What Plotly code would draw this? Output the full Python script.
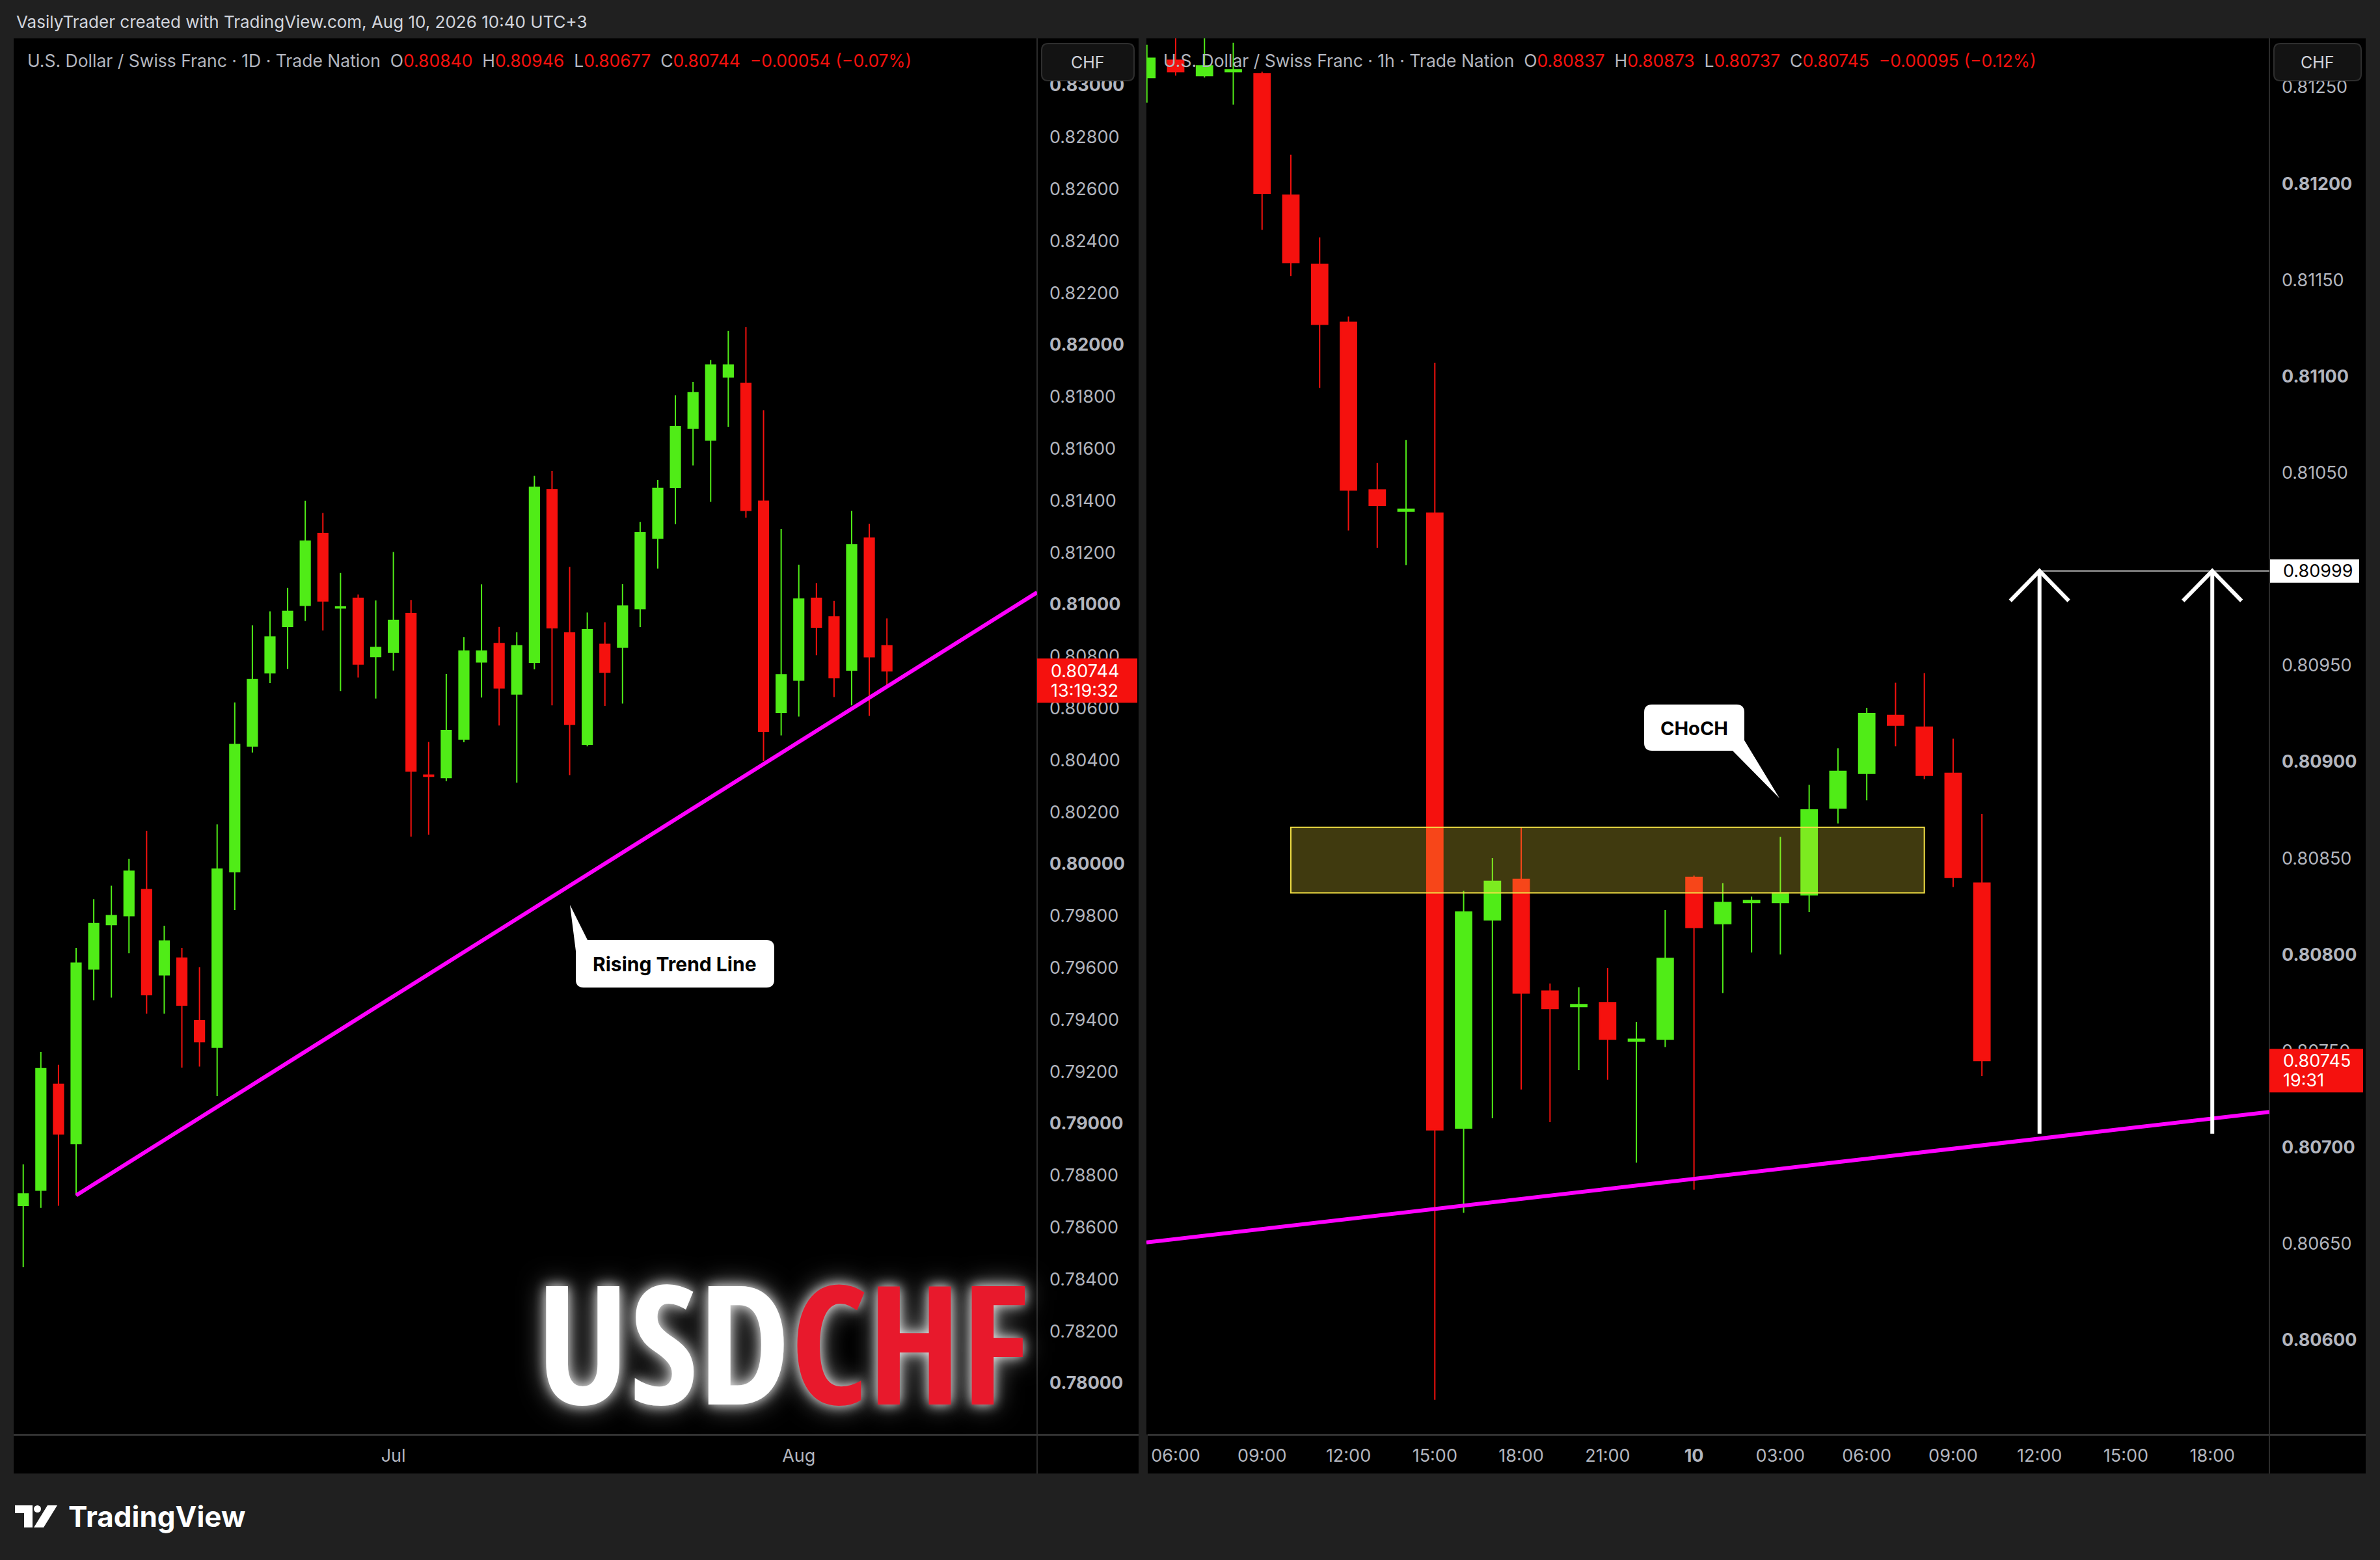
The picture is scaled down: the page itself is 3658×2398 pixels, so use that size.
import plotly.graph_objects as go
import pandas as pd

W, H = 3658, 2398

# ---------------- LEFT PANEL: USD/CHF daily ----------------
daily_dates = [d.strftime("%Y-%m-%d") for d in pd.bdate_range("2026-06-02", "2026-08-10")]
daily_open = [0.78684, 0.78743, 0.79151, 0.78922, 0.79595, 0.79766, 0.79801, 0.79901, 0.79573, 0.79637,
              0.79396, 0.79294, 0.79970, 0.80454, 0.80736, 0.80915, 0.80996, 0.81273, 0.80986, 0.81023,
              0.80799, 0.80815, 0.80965, 0.80342, 0.80333, 0.80481, 0.80778, 0.80849, 0.80655, 0.80777,
              0.81441, 0.80890, 0.80461, 0.80846, 0.80835, 0.80984, 0.81255, 0.81451, 0.81679, 0.81633,
              0.81876, 0.81851, 0.81397, 0.80584, 0.80708, 0.81023, 0.80952, 0.80747, 0.81255, 0.80840]
daily_high = [0.78843, 0.79276, 0.79226, 0.79677, 0.79864, 0.79916, 0.80020, 0.80128, 0.79762, 0.79677,
              0.79602, 0.80152, 0.80622, 0.80919, 0.80973, 0.81063, 0.81399, 0.81352, 0.81121, 0.81038,
              0.81015, 0.81202, 0.81017, 0.80470, 0.80732, 0.80874, 0.81077, 0.80913, 0.80892, 0.81495,
              0.81514, 0.81144, 0.80969, 0.80931, 0.81078, 0.81318, 0.81479, 0.81806, 0.81857, 0.81942,
              0.82053, 0.82068, 0.81748, 0.81291, 0.81153, 0.81082, 0.81013, 0.81360, 0.81311, 0.80946]
daily_low = [0.78446, 0.78675, 0.78683, 0.78723, 0.79475, 0.79485, 0.79656, 0.79423, 0.79423, 0.79215,
             0.79219, 0.79105, 0.79822, 0.80429, 0.80697, 0.80751, 0.80936, 0.80899, 0.80666, 0.80718,
             0.80637, 0.80745, 0.80105, 0.80113, 0.80319, 0.80469, 0.80641, 0.80533, 0.80313, 0.80750,
             0.80611, 0.80342, 0.80453, 0.80609, 0.80618, 0.80912, 0.81138, 0.81309, 0.81535, 0.81395,
             0.81684, 0.81334, 0.80396, 0.80495, 0.80568, 0.80804, 0.80643, 0.80611, 0.80570, 0.80677]
daily_close = [0.78729, 0.79211, 0.78960, 0.79618, 0.79770, 0.79801, 0.79972, 0.79496, 0.79703, 0.79456,
               0.79315, 0.79980, 0.80460, 0.80710, 0.80874, 0.80973, 0.81244, 0.81013, 0.80990, 0.80770,
               0.80834, 0.80938, 0.80358, 0.80338, 0.80514, 0.80820, 0.80820, 0.80678, 0.80840, 0.81451,
               0.80910, 0.80538, 0.80902, 0.80739, 0.80994, 0.81276, 0.81447, 0.81684, 0.81815, 0.81922,
               0.81922, 0.81362, 0.80511, 0.80729, 0.81021, 0.80912, 0.80718, 0.81230, 0.80798, 0.80744]
daily_tick_dates = ["2026-07-01", "2026-08-03"]
daily_tick_text = ["Jul", "Aug"]
daily_price_ticks = [0.780, 0.782, 0.784, 0.786, 0.788, 0.790, 0.792, 0.794, 0.796, 0.798,
                     0.800, 0.802, 0.804, 0.806, 0.808, 0.810, 0.812, 0.814, 0.816, 0.818,
                     0.820, 0.822, 0.824, 0.826, 0.828, 0.830]
daily_trend_dates = ["2026-06-05", "2026-08-10"]
daily_trend_prices = [0.78723, 0.80683]
daily_countdown = "13:19:32"
daily_legend = ("U.S. Dollar / Swiss Franc · 1D · Trade Nation", "−0.00054 (−0.07%)")

# ---------------- RIGHT PANEL: USD/CHF 1h ----------------
hourly_times = ["2026-08-07 05:00", "2026-08-07 06:00", "2026-08-07 07:00", "2026-08-07 08:00",
                "2026-08-07 09:00", "2026-08-07 10:00", "2026-08-07 11:00", "2026-08-07 12:00",
                "2026-08-07 13:00", "2026-08-07 14:00", "2026-08-07 15:00", "2026-08-07 16:00",
                "2026-08-07 17:00", "2026-08-07 18:00", "2026-08-07 19:00", "2026-08-07 20:00",
                "2026-08-07 21:00", "2026-08-07 22:00", "2026-08-07 23:00", "2026-08-10 00:00",
                "2026-08-10 01:00", "2026-08-10 02:00", "2026-08-10 03:00", "2026-08-10 04:00",
                "2026-08-10 05:00", "2026-08-10 06:00", "2026-08-10 07:00", "2026-08-10 08:00",
                "2026-08-10 09:00", "2026-08-10 10:00"]
hourly_open = [0.81255, 0.81264, 0.81256, 0.81258, 0.81257, 0.81194, 0.81158, 0.81128, 0.81041, 0.81030,
               0.81029, 0.80710, 0.80818, 0.80839, 0.80781, 0.80773, 0.80775, 0.80755, 0.80756, 0.80840,
               0.80816, 0.80827, 0.80827, 0.80831, 0.80876, 0.80894, 0.80924, 0.80918, 0.80894, 0.80837]
hourly_high = [0.81272, 0.81277, 0.81277, 0.81273, 0.81258, 0.81215, 0.81172, 0.81131, 0.81055, 0.81067,
               0.81107, 0.80833, 0.80850, 0.80866, 0.80785, 0.80783, 0.80793, 0.80765, 0.80823, 0.80841,
               0.80837, 0.80830, 0.80861, 0.80888, 0.80907, 0.80928, 0.80941, 0.80946, 0.80912, 0.80873]
hourly_low = [0.81242, 0.81256, 0.81255, 0.81241, 0.81176, 0.81152, 0.81094, 0.81020, 0.81011, 0.81002,
              0.80569, 0.80666, 0.80715, 0.80730, 0.80713, 0.80740, 0.80735, 0.80692, 0.80752, 0.80678,
              0.80780, 0.80801, 0.80800, 0.80822, 0.80868, 0.80880, 0.80908, 0.80891, 0.80835, 0.80737]
hourly_close = [0.81265, 0.81258, 0.81261, 0.81259, 0.81195, 0.81159, 0.81127, 0.81041, 0.81033, 0.81031,
                0.80709, 0.80822, 0.80838, 0.80780, 0.80772, 0.80774, 0.80756, 0.80756, 0.80798, 0.80814,
                0.80827, 0.80828, 0.80832, 0.80875, 0.80895, 0.80925, 0.80919, 0.80893, 0.80840, 0.80745]
hourly_tick_times = ["2026-08-07 06:00", "2026-08-07 09:00", "2026-08-07 12:00", "2026-08-07 15:00",
                     "2026-08-07 18:00", "2026-08-07 21:00", "2026-08-10 00:00", "2026-08-10 03:00",
                     "2026-08-10 06:00", "2026-08-10 09:00", "2026-08-10 12:00", "2026-08-10 15:00",
                     "2026-08-10 18:00"]
hourly_tick_text = ["06:00", "09:00", "12:00", "15:00", "18:00", "21:00", "<b>10</b>",
                    "03:00", "06:00", "09:00", "12:00", "15:00", "18:00"]
hourly_price_ticks = [0.8060, 0.8065, 0.8070, 0.8075, 0.8080, 0.8085, 0.8090, 0.8095,
                      0.8100, 0.8105, 0.8110, 0.8115, 0.8120, 0.8125]
hourly_view = ["2026-08-07 04:59", "2026-08-10 19:59"]
hourly_trend_times = ["2026-08-07 15:00", "2026-08-10 10:00"]
hourly_trend_prices = [0.80668, 0.80701]
zone_times = ["2026-08-07 10:00", "2026-08-10 08:00"]
zone_prices = [0.80832, 0.80866]
arrow_times = ["2026-08-10 12:00", "2026-08-10 18:00"]
arrow_from = 0.80707
arrow_target = 0.80999
hourly_countdown = "19:31"
hourly_legend = ("U.S. Dollar / Swiss Franc · 1h · Trade Nation", "−0.00095 (−0.12%)")

header_text = "VasilyTrader created with TradingView.com, Aug 10, 2026 10:40 UTC+3"

# ---------------- helpers ----------------
GREEN = "#50EC17"
RED = "#F5110E"
GREY = "#b2b5be"
BG = "#202020"
FONT = "Inter, Roboto, sans-serif"

T0 = pd.Timestamp("2026-08-07")
WEEKEND_START = pd.Timestamp("2026-08-08")


def session_hours(times):
    ts = pd.to_datetime(pd.Series(times))
    h = (ts - T0) / pd.Timedelta(hours=1)
    h = h - 48 * (ts >= WEEKEND_START)
    return [float(v) for v in h]


def fmt(v):
    s = f"{v:.5f}"
    return f"<b>{s}</b>" if abs(v * 100 - round(v * 100)) < 1e-6 else s


def fmt_h(v):
    s = f"{v:.5f}"
    return f"<b>{s}</b>" if abs(v * 1000 - round(v * 1000)) < 1e-6 else s


def pth(cmds):
    out = []
    for c, pts in cmds:
        coords = []
        for i in range(0, len(pts), 2):
            coords.append(f"{pts[i]:.1f},{-pts[i + 1]:.1f}")
        out.append(c + " ".join(coords))
    return " ".join(out)


def pix_shape(cmds, fill=None, line_color=None, line_width=0, layer="above"):
    d = dict(type="path", xref="paper", yref="paper", xsizemode="pixel", ysizemode="pixel",
             xanchor=0, yanchor=1, path=pth(cmds), layer=layer,
             line=dict(width=line_width, color=line_color or "rgba(0,0,0,0)"))
    if fill:
        d["fillcolor"] = fill
    return d


def rect(x0, y0, x1, y1, **kw):
    return pix_shape([("M", (x0, y0)), ("L", (x1, y0)), ("L", (x1, y1)), ("L", (x0, y1)), ("Z", ())], **kw)


def rrect(x0, y0, x1, y1, r, **kw):
    return pix_shape([("M", (x0 + r, y0)), ("L", (x1 - r, y0)), ("Q", (x1, y0, x1, y0 + r)),
                      ("L", (x1, y1 - r)), ("Q", (x1, y1, x1 - r, y1)), ("L", (x0 + r, y1)),
                      ("Q", (x0, y1, x0, y1 - r)), ("L", (x0, y0 + r)), ("Q", (x0, y0, x0 + r, y0)),
                      ("Z", ())], **kw)


def ann(text, x, y, size, color, xanchor="left", yanchor="middle", family=FONT, **kw):
    return dict(text=text, x=x / W, y=1 - y / H, xref="paper", yref="paper", showarrow=False,
                xanchor=xanchor, yanchor=yanchor, font=dict(size=size, color=color, family=family), **kw)


# layout geometry (pixels)
L_X0, L_X1, L_AX1 = 21, 1594, 1750
R_X0, R_X1, R_AX1 = 1764, 3488, 3636
R_PLOT_X0 = 1762
P_Y0, P_Y1, AX_Y1 = 59, 2205, 2265

fig = go.Figure()

fig.add_trace(go.Candlestick(
    x=daily_dates, open=daily_open, high=daily_high, low=daily_low, close=daily_close,
    xaxis="x", yaxis="y", showlegend=False, hoverinfo="skip", whiskerwidth=0,
    increasing=dict(line=dict(color=GREEN, width=2), fillcolor=GREEN),
    decreasing=dict(line=dict(color=RED, width=2), fillcolor=RED)))

h_x = session_hours(hourly_times)
fig.add_trace(go.Candlestick(
    x=h_x, open=hourly_open, high=hourly_high, low=hourly_low, close=hourly_close,
    xaxis="x2", yaxis="y2", showlegend=False, hoverinfo="skip", whiskerwidth=0,
    increasing=dict(line=dict(color=GREEN, width=2), fillcolor=GREEN),
    decreasing=dict(line=dict(color=RED, width=2), fillcolor=RED)))

# axis ranges
d_range = [-0.543, 57.52]
h_range = session_hours(hourly_view)
yl_range = [0.77802, 0.831805]
yr_range = [0.80551, 0.812753]

shapes = []
# panels
shapes.append(rect(L_X0, P_Y0, L_AX1, AX_Y1, fill="#000000", layer="below"))
shapes.append(rect(R_X0, P_Y0, R_AX1, AX_Y1, fill="#000000", layer="below"))
# dividers
DIV = "#2b2b2b"
shapes.append(rect(L_X1 - 1, P_Y0, L_X1 + 1, AX_Y1, fill=DIV))
shapes.append(rect(R_X1 - 1, P_Y0, R_X1 + 1, AX_Y1, fill=DIV))
shapes.append(rect(L_X0, P_Y1 - 1, L_AX1, P_Y1 + 2, fill="#333333"))
shapes.append(rect(R_X0, P_Y1 - 1, R_AX1, P_Y1 + 2, fill="#333333"))

# zone (above candles)
hz = session_hours(zone_times)
shapes.append(dict(type="rect", xref="x2", yref="y2", x0=hz[0], x1=hz[1], y0=zone_prices[0], y1=zone_prices[1],
                   fillcolor="rgba(255,232,60,0.25)", line=dict(color="#f2df45", width=2), layer="above"))

# left trend line (from anchor extended to right edge)
ti = [daily_dates.index(d) for d in daily_trend_dates]
slope_l = (daily_trend_prices[1] - daily_trend_prices[0]) / (ti[1] - ti[0])
shapes.append(dict(type="line", xref="x", yref="y", x0=ti[0], y0=daily_trend_prices[0],
                   x1=d_range[1], y1=daily_trend_prices[0] + slope_l * (d_range[1] - ti[0]),
                   line=dict(color="#ff00ff", width=6), layer="above"))

# right trend line (extended both sides)
tt = session_hours(hourly_trend_times)
slope_r = (hourly_trend_prices[1] - hourly_trend_prices[0]) / (tt[1] - tt[0])
shapes.append(dict(type="line", xref="x2", yref="y2",
                   x0=h_range[0], y0=hourly_trend_prices[0] + slope_r * (h_range[0] - tt[0]),
                   x1=h_range[1], y1=hourly_trend_prices[0] + slope_r * (h_range[1] - tt[0]),
                   line=dict(color="#ff00ff", width=6), layer="above"))

# arrows + target line
ax_ = session_hours(arrow_times)
shapes.append(dict(type="line", xref="x2", yref="y2", x0=ax_[0], x1=h_range[1], y0=arrow_target, y1=arrow_target,
                   line=dict(color="#ffffff", width=1.5), layer="above"))
for xa in ax_:
    shapes.append(dict(type="line", xref="x2", yref="y2", x0=xa, x1=xa, y0=arrow_from, y1=arrow_target,
                       line=dict(color="#ffffff", width=6), layer="above"))
    shapes.append(dict(type="path", xref="x2", yref="y2", xsizemode="pixel", ysizemode="pixel",
                       xanchor=xa, yanchor=arrow_target, path="M-45,-46 L0,0 L45,-46",
                       line=dict(color="#ffffff", width=6), layer="above"))

# callouts
shapes.append(pix_shape([("M", (903, 1445)), ("L", (1178, 1445)), ("Q", (1190, 1445, 1190, 1457)),
                         ("L", (1190, 1506)), ("Q", (1190, 1518, 1178, 1518)), ("L", (897, 1518)),
                         ("Q", (885, 1518, 885, 1506)), ("L", (885, 1462)), ("L", (876, 1391)), ("Z", ())],
                        fill="#ffffff"))
shapes.append(pix_shape([("M", (2539, 1083)), ("L", (2669, 1083)), ("Q", (2681, 1083, 2681, 1095)),
                         ("L", (2681, 1138)), ("L", (2735, 1227)), ("L", (2663, 1154)), ("L", (2539, 1154)),
                         ("Q", (2527, 1154, 2527, 1142)), ("L", (2527, 1095)), ("Q", (2527, 1083, 2539, 1083)),
                         ("Z", ())], fill="#ffffff"))

# CHF buttons
shapes.append(rrect(1601, 67, 1743, 124, 10, fill="#131313", line_color="#2e2e2e", line_width=2))
shapes.append(rrect(3495, 67, 3629, 124, 10, fill="#131313", line_color="#2e2e2e", line_width=2))

# price labels
shapes.append(dict(type="rect", xref="paper", yref="y", ysizemode="pixel", yanchor=daily_close[-1],
                   x0=L_X1 / W, x1=1748 / W, y0=19, y1=-49, fillcolor=RED, line=dict(width=0), layer="above"))
shapes.append(dict(type="rect", xref="paper", yref="y2", ysizemode="pixel", yanchor=hourly_close[-1],
                   x0=R_X1 / W, x1=3632 / W, y0=18, y1=-49, fillcolor=RED, line=dict(width=0), layer="above"))
shapes.append(dict(type="rect", xref="paper", yref="y2", ysizemode="pixel", yanchor=arrow_target,
                   x0=3489 / W, x1=3626 / W, y0=18, y1=-18, fillcolor="#ffffff", line=dict(width=0), layer="above"))

# TradingView logo icon
shapes.append(pix_shape([("M", (23, 2314)), ("L", (50, 2314)), ("L", (50, 2348)), ("L", (37, 2348)),
                         ("L", (37, 2326)), ("L", (23, 2326)), ("Z", ())], fill="#ffffff"))
shapes.append(dict(type="circle", xref="paper", yref="paper", xsizemode="pixel", ysizemode="pixel",
                   xanchor=0, yanchor=1, x0=52, x1=63, y0=-2314, y1=-2325, fillcolor="#ffffff",
                   line=dict(width=0)))
shapes.append(pix_shape([("M", (52, 2348)), ("L", (73, 2314)), ("L", (88, 2314)), ("L", (67, 2348)), ("Z", ())],
                        fill="#ffffff"))

annotations = []
annotations.append(ann(header_text, 23, 33, 26, "#d1d4dc"))


def legend_text(name, o, h, l, c, chg):
    r = lambda v: f"<span style='color:{RED}'>{v}</span>"
    return (f"{name}  O{r(f'{o:.5f}')}  H{r(f'{h:.5f}')}  L{r(f'{l:.5f}')}  "
            f"C{r(f'{c:.5f}')}  {r(chg)}")


annotations.append(ann(legend_text(daily_legend[0], daily_open[-1], daily_high[-1], daily_low[-1],
                                   daily_close[-1], daily_legend[1]), 40, 93, 26.5, GREY))
annotations.append(ann(legend_text(hourly_legend[0], hourly_open[-1], hourly_high[-1], hourly_low[-1],
                                   hourly_close[-1], hourly_legend[1]), 1786, 93, 26.5, GREY))
annotations.append(ann("CHF", 1672, 96, 25, "#d1d4dc", xanchor="center"))
annotations.append(ann("CHF", 3562, 96, 25, "#d1d4dc", xanchor="center"))

annotations.append(ann("<b>Rising Trend Line</b>", 1037, 1482, 30, "#000000", xanchor="center"))
annotations.append(ann("<b>CHoCH</b>", 2604, 1119, 29, "#000000", xanchor="center"))

# price label texts
PF = dict(size=27, color="#ffffff", family=FONT)
annotations.append(dict(text=f"{daily_close[-1]:.5f}", x=1613 / W, xref="paper", y=daily_close[-1], yref="y",
                        xanchor="left", yanchor="middle", showarrow=False, font=PF))
annotations.append(dict(text=daily_countdown, x=1613 / W, xref="paper", y=daily_close[-1], yref="y",
                        xanchor="left", yanchor="middle", yshift=-30, showarrow=False, font=PF))
annotations.append(dict(text=f"{hourly_close[-1]:.5f}", x=3507 / W, xref="paper", y=hourly_close[-1], yref="y2",
                        xanchor="left", yanchor="middle", showarrow=False, font=PF))
annotations.append(dict(text=hourly_countdown, x=3507 / W, xref="paper", y=hourly_close[-1], yref="y2",
                        xanchor="left", yanchor="middle", yshift=-30, showarrow=False, font=PF))
annotations.append(dict(text=f"{arrow_target:.5f}", x=3507 / W, xref="paper", y=arrow_target, yref="y2",
                        xanchor="left", yanchor="middle", showarrow=False,
                        font=dict(size=27, color="#000000", family=FONT)))

# USDCHF logo
annotations.append(dict(text="<span style='font-stretch:75%'>USD</span>"
                             "<span style='font-stretch:75%;color:#E8192C'>CHF</span>",
                        x=1203 / W, y=1 - 2060 / H,
                        xref="paper", yref="paper", xanchor="center", yanchor="middle", showarrow=False,
                        font=dict(size=255, color="#ffffff", weight="bold",
                                  family="Open Sans Condensed, Roboto Condensed, Liberation Sans Narrow, Open Sans, sans-serif",
                                  shadow="0px 0px 18px rgba(255,255,255,0.9), 0px 0px 40px rgba(255,255,255,0.55)")))

annotations.append(ann("<b>TradingView</b>", 103, 2331, 44, "#ffffff"))

tickfont = dict(size=27, color=GREY, family=FONT)
fig.update_layout(
    width=W, height=H, autosize=False,
    margin=dict(l=0, r=0, t=0, b=0, pad=0),
    paper_bgcolor=BG, plot_bgcolor="#000000",
    boxgap=0.2,
    showlegend=False,
    shapes=shapes,
    annotations=annotations,
    xaxis=dict(domain=[L_X0 / W, L_X1 / W], anchor="y", type="category", range=d_range,
               showgrid=False, zeroline=False, showline=False, rangeslider=dict(visible=False),
               tickmode="array", tickvals=daily_tick_dates, ticktext=daily_tick_text,
               tickfont=tickfont, ticks="", ticklabelstandoff=14, fixedrange=True),
    yaxis=dict(domain=[1 - P_Y1 / H, 1 - P_Y0 / H], anchor="x", side="right", range=yl_range,
               showgrid=False, zeroline=False, showline=False, tickmode="array",
               tickvals=daily_price_ticks, ticktext=[fmt(v) for v in daily_price_ticks],
               tickfont=tickfont, ticks="", ticklabelstandoff=18),
    xaxis2=dict(domain=[R_PLOT_X0 / W, R_X1 / W], anchor="y2", type="linear", range=h_range,
                showgrid=False, zeroline=False, showline=False, rangeslider=dict(visible=False),
                tickmode="array", tickvals=session_hours(hourly_tick_times), ticktext=hourly_tick_text,
                tickfont=tickfont, ticks="", ticklabelstandoff=14),
    yaxis2=dict(domain=[1 - P_Y1 / H, 1 - P_Y0 / H], anchor="x2", side="right", range=yr_range,
                showgrid=False, zeroline=False, showline=False, tickmode="array",
                tickvals=hourly_price_ticks, ticktext=[fmt_h(v) for v in hourly_price_ticks],
                tickfont=tickfont, ticks="", ticklabelstandoff=18),
)

fig.write_html("out.html", config={"displayModeBar": False},
               post_script="document.body.style.margin='0px';document.body.style.overflow='hidden';")
